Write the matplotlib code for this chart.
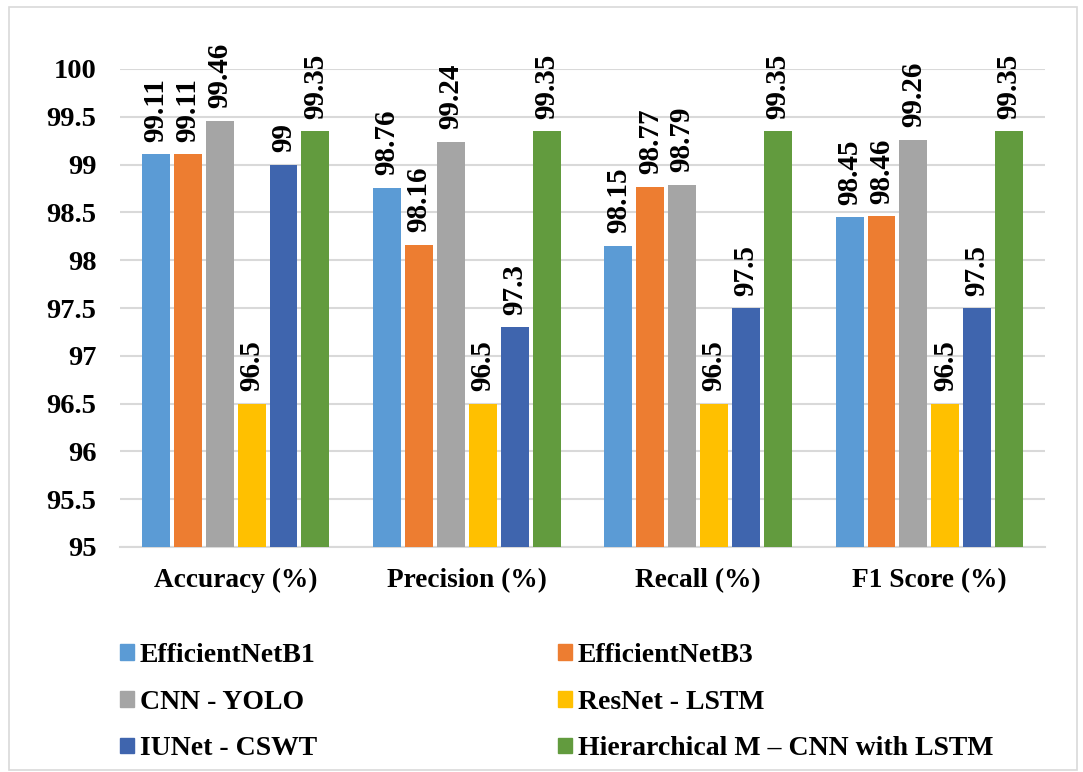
import matplotlib
matplotlib.use("Agg")
import matplotlib.pyplot as plt
from matplotlib.patches import Rectangle, Patch
import numpy as np

categories = ["Accuracy (%)", "Precision (%)", "Recall (%)", "F1 Score (%)"]
models = ["EfficientNetB1", "EfficientNetB3", "CNN - YOLO", "ResNet - LSTM",
          "IUNet - CSWT", "Hierarchical M \u2013 CNN with LSTM"]
efficientnet_b1 = [99.11, 98.76, 98.15, 98.45]
efficientnet_b3 = [99.11, 98.16, 98.77, 98.46]
cnn_yolo = [99.46, 99.24, 98.79, 99.26]
resnet_lstm = [96.5, 96.5, 96.5, 96.5]
iunet_cswt = [99, 97.3, 97.5, 97.5]
hierarchical = [99.35, 99.35, 99.35, 99.35]
series = [efficientnet_b1, efficientnet_b3, cnn_yolo, resnet_lstm, iunet_cswt, hierarchical]
colors = ["#5B9BD5", "#ED7D31", "#A5A5A5", "#FFC000", "#3F65AE", "#629B3E"]
yticks = [95, 95.5, 96, 96.5, 97, 97.5, 98, 98.5, 99, 99.5, 100]

plt.rcParams['font.family'] = ['Liberation Serif', 'DejaVu Serif']
plt.rcParams['font.weight'] = 'bold'

fig = plt.figure(figsize=(10.83, 7.72), dpi=100)
fig.patches.append(Rectangle((9/1083, 2/772), 1068/1083, 763/772, transform=fig.transFigure,
                             fill=False, edgecolor="#D9D9D9", linewidth=1.2))
ax = fig.add_axes([120/1083, 1-547/772, 925/1083, (547-69)/772])

x = np.arange(len(categories))
bw = 0.121
step = 0.138
for i, (vals, c) in enumerate(zip(series, colors)):
    pos = x + (i - 2.5) * step
    ax.bar(pos, [v - 95 for v in vals], bw, bottom=95, color=c, zorder=3)
    for p, v in zip(pos, vals):
        ax.annotate(f"{v:g}", (p, v), xytext=(0, 9), textcoords="offset points",
                    rotation=90, ha="center", va="bottom", fontsize=21, fontweight="bold")

ax.set_ylim(95, 100)
ax.set_xlim(-0.5, 3.5)
ax.set_yticks(yticks)
ax.set_yticklabels([f"{t:g}" for t in yticks], fontsize=20.5, fontweight="bold")
ax.set_xticks(x)
ax.set_xticklabels(categories, fontsize=19.7, fontweight="bold")
ax.tick_params(axis="both", length=0)
ax.tick_params(axis="y", pad=17)
ax.tick_params(axis="x", pad=15)
ax.yaxis.grid(True, color="#D9D9D9", linewidth=1.5, zorder=0)
ax.set_axisbelow(True)
for s in ["top", "right", "left"]:
    ax.spines[s].set_visible(False)
ax.spines["bottom"].set_color("#D9D9D9")
ax.spines["bottom"].set_linewidth(1.5)

handles = [Patch(color=c, label=m) for c, m in zip(colors, models)]
order = [0, 2, 4, 1, 3, 5]
leg = fig.legend([handles[i] for i in order], [models[i] for i in order],
                 ncol=2, loc="upper left", bbox_to_anchor=(95/1083, 1-618/772),
                 frameon=False, fontsize=20, handlelength=0.5, handleheight=0.5,
                 handletextpad=0.22, columnspacing=8.67, labelspacing=0.78)
for t in leg.get_texts():
    t.set_fontweight("bold")

fig.savefig("out.png", dpi=100)
